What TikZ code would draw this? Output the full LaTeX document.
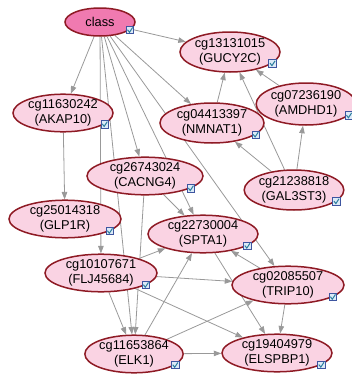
\documentclass[tikz,border=0pt]{standalone}
\usepackage{fontspec}
\setmainfont{Liberation Sans}
\usetikzlibrary{shapes.geometric,arrows.meta,backgrounds}

\definecolor{varfill}{HTML}{FAD3E3}
\definecolor{classfill}{HTML}{F07AB0}
\definecolor{varline}{HTML}{8E1A24}
\definecolor{arcgray}{HTML}{999999}
\definecolor{boxline}{HTML}{3E55A0}
\definecolor{boxfill}{HTML}{DCEAF7}
\definecolor{tickline}{HTML}{2C7E9E}

\tikzset{
	var/.style={ellipse, draw=varline, line width=1.5pt, fill=varfill, inner sep=0pt,
		minimum width=#1, minimum height=37pt, align=center,
		font=\fontsize{12.8}{15}\selectfont},
	var/.default=100pt,
	arc/.style={draw=arcgray, line width=0.8pt, -{Triangle[length=7.5pt,width=5.5pt]}},
	chkbox/.style={rectangle, draw=boxline, line width=0.6pt, fill=boxfill,
		minimum size=7.5pt, inner sep=0pt,
		path picture={\draw[tickline, line width=1pt]
			([xshift=1.3pt,yshift=0.3pt]path picture bounding box.west)
			-- ([xshift=-0.5pt,yshift=1.5pt]path picture bounding box.south)
			-- ([xshift=-1.1pt,yshift=-1.2pt]path picture bounding box.north east);}}
}
\newcommand{\markvar}[1]{\node[chkbox] (#1-chk) at (#1.-15) {};}

\begin{document}
\begin{tikzpicture}[x=1pt,y=-1pt]
	\useasboundingbox (0,0) rectangle (352,375);

	\node[var=70pt, minimum height=28pt, fill=classfill] (class) at (100,22) {class};
	\node[var=100pt, minimum height=40pt] (gucy) at (230,52) {cg13131015\\(GUCY2C)};
	\node[var=88pt, minimum height=42pt] (amdhd) at (306,104) {cg07236190\\(AMDHD1)};
	\node[var=100pt] (akap) at (63,113) {cg11630242\\(AKAP10)};
	\node[var=104pt, minimum height=40pt] (nmnat) at (212,123) {cg04413397\\(NMNAT1)};
	\node[var=116pt] (cacng) at (145,176) {cg26743024\\(CACNG4)};
	\node[var=96pt, minimum height=40pt] (galst) at (294,190) {cg21238818\\(GAL3ST3)};
	\node[var=112pt] (glp) at (65,219) {cg25014318\\(GLP1R)};
	\node[var=110pt] (spta) at (203,234) {cg22730004\\(SPTA1)};
	\node[var=112pt] (flj) at (101,273) {cg10107671\\(FLJ45684)};
	\node[var=112pt] (trip) at (288,285) {cg02085507\\(TRIP10)};
	\node[var=98pt] (elk) at (134,354) {cg11653864\\(ELK1)};
	\node[var=110pt] (elsp) at (277,353) {cg19404979\\(ELSPBP1)};

	\begin{scope}[on background layer]
		\foreach \t in {gucy,akap,nmnat,cacng,spta,trip,flj,elk}
			\draw[arc] (class) -- (\t);
		\foreach \s in {nmnat,galst,amdhd}
			\draw[arc] (\s) -- (gucy);
		\draw[arc] (galst) -- (nmnat);
		\draw[arc] (galst) -- (amdhd);
		\draw[arc] (akap) -- (glp);
		\draw[arc] (cacng) -- (spta);
		\draw[arc] (cacng) -- (elk);
		\foreach \t in {spta,trip,elsp,elk}
			\draw[arc] (flj) -- (\t);
		\draw[arc] (trip) -- (spta);
		\draw[arc] (trip) -- (elsp);
		\draw[arc] (spta) -- (elsp);
		\foreach \t in {spta,trip,elsp}
			\draw[arc] (elk) -- (\t);
	\end{scope}

	\foreach \v in {class,gucy,amdhd,akap,nmnat,cacng,galst,glp,spta,flj,trip,elk,elsp}
		{\markvar{\v}}
\end{tikzpicture}
\end{document}
